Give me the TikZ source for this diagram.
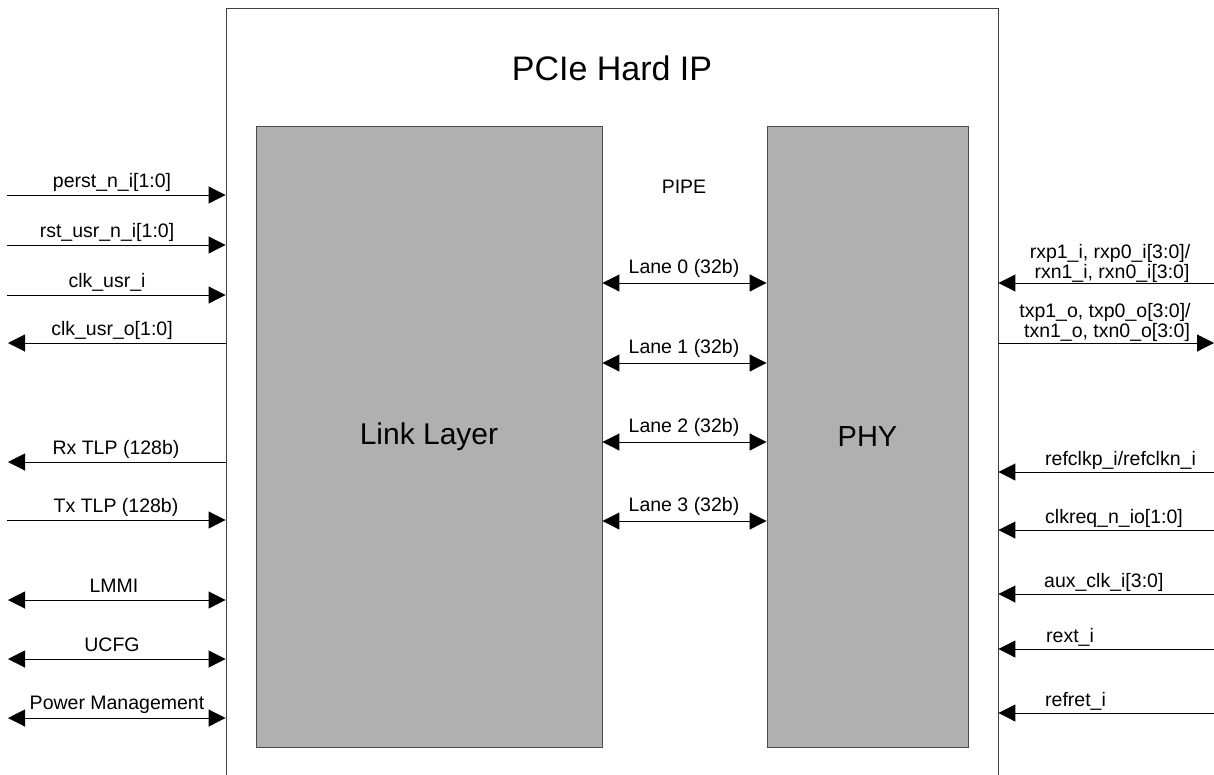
\documentclass[tikz,border=0pt]{standalone}
\usepackage{fontspec}
\setmainfont{Liberation Sans}
\usetikzlibrary{arrows.meta}
\begin{document}
\begin{tikzpicture}[x=1pt,y=-1pt,
  block/.style={draw=black!70, fill=black!31, line width=0.9pt, inner sep=0pt},
  frame/.style={draw=black!75, line width=0.9pt, inner sep=0pt},
  sig/.style={line width=1pt, draw=black},
  tipend/.style={-{Triangle[length=17pt,width=17pt]}},
  tipstart/.style={{Triangle[length=17pt,width=17pt]}-},
  tipboth/.style={{Triangle[length=17pt,width=17pt]}-{Triangle[length=17pt,width=17pt]}},
  lbl/.style={font=\fontsize{19.5}{20}\selectfont, inner sep=0pt, anchor=base},
  lbll/.style={lbl, anchor=base west},
]
\useasboundingbox (0,0) rectangle (1214,774);
\clip (0,0) rectangle (1214,774);

% Hard IP frame (open towards the bottom of the page)
\node[frame, minimum width=772pt, minimum height=792pt] (hardip) at (612,404) {};
\node[font=\fontsize{34}{36}\selectfont, inner sep=0pt] (title) at (612,68) {PCIe Hard IP};

% Internal blocks
\node[block, minimum width=346pt, minimum height=621pt,
      font=\fontsize{30}{32}\selectfont] (link) at (429,436.5) {Link Layer};
\node[block, minimum width=201pt, minimum height=621pt,
      font=\fontsize{29}{32}\selectfont] (phy) at (867.5,436.5) {PHY};

\node[lbl] (pipe) at (684,193) {PIPE};

% PIPE lanes between Link Layer and PHY
\foreach \n/\y in {0/283,1/363,2/442,3/521}{
  \coordinate (lane\n) at (684,\y);
  \draw[sig, tipboth] (lane\n -| link.east) -- (lane\n -| phy.west);
  \node[lbl] (lanelbl\n) at (684,\y-10) {Lane \n\ (32b)};
}

% Left-side user interface signals
\coordinate (perst) at (7,195);
\coordinate (rstusr) at (7,245);
\coordinate (clkusri) at (7,295);
\coordinate (clkusro) at (8,343);
\coordinate (rxtlp) at (8,462);
\coordinate (txtlp) at (7,520);
\coordinate (lmmi) at (8,600);
\coordinate (ucfg) at (8,659);
\coordinate (pwr) at (8,718);

\draw[sig, tipend] (perst) -- (perst -| hardip.west);
\draw[sig, tipend] (rstusr) -- (rstusr -| hardip.west);
\draw[sig, tipend] (clkusri) -- (clkusri -| hardip.west);
\draw[sig, tipend] (clkusro -| hardip.west) -- (clkusro);
\draw[sig, tipend] (rxtlp -| hardip.west) -- (rxtlp);
\draw[sig, tipend] (txtlp) -- (txtlp -| hardip.west);
\draw[sig, tipboth] (lmmi) -- (lmmi -| hardip.west);
\draw[sig, tipboth] (ucfg) -- (ucfg -| hardip.west);
\draw[sig, tipboth] (pwr) -- (pwr -| hardip.west);

\node[lbl] (perstlbl) at (112,187) {perst\_n\_i[1:0]};
\node[lbl] (rstusrlbl) at (107,237) {rst\_usr\_n\_i[1:0]};
\node[lbl] (clkusrilbl) at (107,287) {clk\_usr\_i};
\node[lbl] (clkusrolbl) at (112,335) {clk\_usr\_o[1:0]};
\node[lbl] (rxtlplbl) at (116,454) {Rx TLP (128b)};
\node[lbl] (txtlplbl) at (116,512) {Tx TLP (128b)};
\node[lbl] (lmmilbl) at (114,592) {LMMI};
\node[lbl] (ucfglbl) at (112,651) {UCFG};
\node[lbl] (pwrlbl) at (117,709) {Power Management};

% Right-side serial and clock pins
\coordinate (rxp) at (1214,283);
\coordinate (txp) at (1214,343);
\coordinate (refclk) at (1214,472);
\coordinate (clkreq) at (1214,530);
\coordinate (auxclk) at (1214,594);
\coordinate (rext) at (1214,649);
\coordinate (refret) at (1214,713);

\draw[sig, tipend] (rxp) -- (rxp -| hardip.east);
\draw[sig, tipend] (txp -| hardip.east) -- (txp);
\draw[sig, tipend] (refclk) -- (refclk -| hardip.east);
\draw[sig, tipend] (clkreq) -- (clkreq -| hardip.east);
\draw[sig, tipend] (auxclk) -- (auxclk -| hardip.east);
\draw[sig, tipend] (rext) -- (rext -| hardip.east);
\draw[sig, tipend] (refret) -- (refret -| hardip.east);

\node[lbl] (rxplbl1) at (1110,258) {rxp1\_i, rxp0\_i[3:0]/};
\node[lbl] (rxplbl2) at (1112,278) {rxn1\_i, rxn0\_i[3:0]};
\node[lbl] (txplbl1) at (1105,317) {txp1\_o, txp0\_o[3:0]/};
\node[lbl] (txplbl2) at (1107,337) {txn1\_o, txn0\_o[3:0]};

\node[lbll] (refclklbl) at (1045,465) {refclkp\_i/refclkn\_i};
\node[lbll] (clkreqlbl) at (1045,523) {clkreq\_n\_io[1:0]};
\node[lbll] (auxclklbl) at (1044,587) {aux\_clk\_i[3:0]};
\node[lbll] (rextlbl) at (1046,642) {rext\_i};
\node[lbll] (refretlbl) at (1045,706) {refret\_i};
\end{tikzpicture}
\end{document}
